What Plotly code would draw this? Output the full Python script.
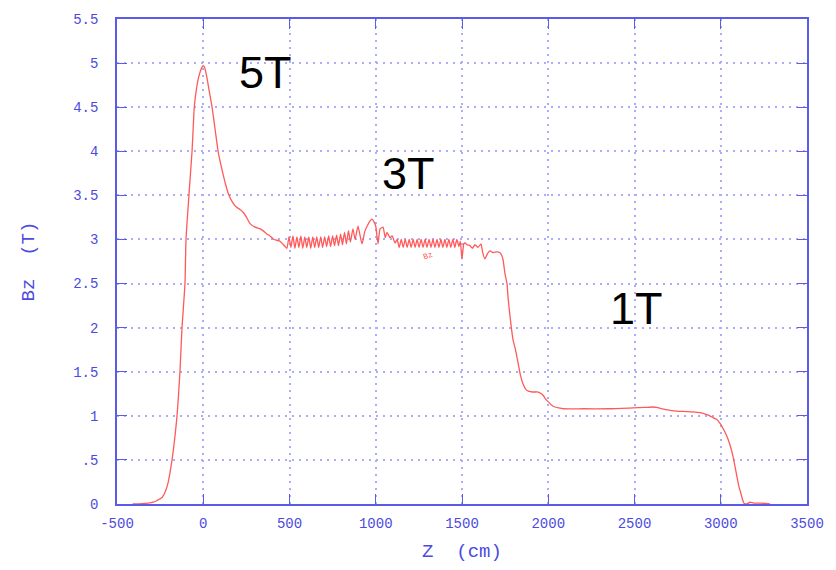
import plotly.graph_objects as go

# Field profile Bz (T) along Z (cm)
z_cm = [-410, -380, -350, -320, -290, -268, -240, -222, -204, -181, -165, -152, -143, -135,
        -123, -106, -100, -83, -65, -52, -40, -29, -15, -5, 0, 8, 20, 35, 51, 70, 86, 110,
        130, 149, 170, 190, 213, 235, 254, 271, 300, 330, 346, 370, 387, 410, 445, 474,
        485, 497, 508, 520, 531, 543, 554, 566, 577, 589, 600, 612, 623, 635, 646, 658,
        669, 681, 692, 704, 715, 727, 738, 750, 761, 773, 784, 796, 807, 819, 830, 842,
        853, 868, 880, 897, 920, 938, 955, 967, 978, 990, 1000, 1013, 1025, 1042, 1055,
        1065, 1083, 1095, 1112,
        1124, 1136, 1148, 1159, 1171, 1182, 1194, 1205, 1217, 1228, 1240, 1251, 1263, 1274,
        1286, 1297, 1309, 1320, 1332, 1343, 1355, 1366, 1378, 1389, 1401, 1412, 1424, 1435,
        1447, 1458, 1470, 1482, 1490, 1500, 1510, 1517, 1530, 1546, 1560, 1575, 1593, 1610,
        1620, 1633, 1648, 1662, 1680, 1703, 1720, 1730, 1738, 1750, 1761, 1767, 1780, 1796,
        1810, 1825, 1840, 1854, 1870, 1884, 1910, 1942, 1960, 1971, 1985, 2000, 2020, 2039,
        2060, 2087, 2200, 2350, 2493, 2560, 2608, 2630, 2660, 2717, 2780, 2840, 2880, 2910,
        2937, 2955, 2975, 2994, 3015, 3035, 3055, 3071, 3094, 3105, 3117, 3125, 3134, 3150,
        3170, 3190, 3230, 3286]
bz_t = [0.0, 0.0, 0.005, 0.01, 0.02, 0.04, 0.07, 0.13, 0.24, 0.5, 0.75, 1.0, 1.25, 1.5,
        2.0, 2.5, 3.0, 3.5, 4.0, 4.5, 4.7, 4.82, 4.92, 4.96, 4.97, 4.95, 4.85, 4.68, 4.5, 4.23, 4.0, 3.78,
        3.62, 3.5, 3.42, 3.37, 3.34, 3.3, 3.24, 3.18, 3.14, 3.12, 3.1, 3.06, 3.04, 3.0, 2.98, 2.92,
        2.90, 3.03, 2.91, 3.04, 2.90, 3.03, 2.91, 3.04, 2.90, 3.03, 2.91, 3.03, 2.90, 3.03, 2.91, 3.03,
        2.91, 3.03, 2.91, 3.03, 2.92, 3.04, 2.92, 3.04, 2.93, 3.05, 2.93, 3.06, 2.94, 3.08, 2.95, 3.10,
        2.97, 3.12, 3.0, 3.15, 2.95, 3.10, 3.17, 3.21, 3.23, 3.2, 3.15, 2.95, 3.12, 3.14, 3.02,
        3.08, 3.02, 3.04, 2.96,
        3.0, 2.91, 3.0, 2.91, 3.0, 2.91, 3.0, 2.91, 3.0, 2.91, 3.0, 2.91, 3.0, 2.91,
        3.0, 2.91, 3.0, 2.91, 3.0, 2.91, 3.0, 2.91, 3.0, 2.91, 3.0, 2.91, 3.0, 2.91,
        3.0, 2.91, 3.0, 2.92, 2.98, 2.78, 2.95, 2.96, 2.94, 2.93, 2.9, 2.94, 2.91, 2.95,
        2.85, 2.78, 2.84, 2.87, 2.85, 2.86, 2.85, 2.82, 2.77, 2.6, 2.5, 2.34, 2.1, 1.86,
        1.75, 1.6, 1.45, 1.36, 1.3, 1.28, 1.27, 1.27, 1.25, 1.23, 1.19, 1.16, 1.12, 1.10,
        1.09, 1.08, 1.08, 1.08, 1.09, 1.095, 1.1, 1.095, 1.08, 1.06, 1.05, 1.045, 1.035, 1.02,
        1.0, 0.98, 0.96, 0.92, 0.85, 0.77, 0.66, 0.54, 0.31, 0.2, 0.12, 0.06, 0.01, 0.0,
        0.02, 0.01, 0.01, 0.0]

x_ticks = [-500, 0, 500, 1000, 1500, 2000, 2500, 3000, 3500]
y_ticks = [0, 0.5, 1, 1.5, 2, 2.5, 3, 3.5, 4, 4.5, 5, 5.5]
y_tick_text = ["0", ".5", "1", "1.5", "2", "2.5", "3", "3.5", "4", "4.5", "5", "5.5"]

labels = ["5T", "3T", "1T"]
label_z = [358, 1187, 2509]
label_b = [4.89, 3.75, 2.22]

AXIS_BLUE = "#5b5bea"
TEXT_BLUE = "#4b4be0"
GRID_BLUE = "#acacf8"
MONO = "Liberation Mono, DejaVu Sans Mono, monospace"

fig = go.Figure()
fig.add_trace(go.Scatter(x=z_cm, y=bz_t, mode="lines",
                         line=dict(color="#ff5a5a", width=1.3, shape="spline", smoothing=0.5),
                         showlegend=False, hoverinfo="skip"))

for t, zx, by in zip(labels, label_z, label_b):
    fig.add_annotation(x=zx, y=by, text=t, showarrow=False,
                       font=dict(family="Liberation Sans, Arial, sans-serif", size=45, color="black"))

fig.add_annotation(x=1303, y=2.82, text="Bz", showarrow=False, textangle=-20,
                   font=dict(family=MONO, size=8, color="#ff5a5a"))

axis_common = dict(
    showline=True, linecolor=AXIS_BLUE, linewidth=1.5, mirror="ticks",
    ticks="inside", ticklen=10, tickcolor=AXIS_BLUE, tickwidth=1.2,
    showgrid=True, gridcolor=GRID_BLUE, griddash="1.5px,5.5px", gridwidth=1.5,
    zeroline=False,
    tickfont=dict(family=MONO, size=14, color=TEXT_BLUE),
)

fig.update_xaxes(range=[-500, 3500], tickvals=x_ticks, ticktext=[str(v) for v in x_ticks],
                 title=dict(text="Z  (cm)", font=dict(family=MONO, size=19, color=TEXT_BLUE), standoff=13),
                 ticklabelstandoff=5, **axis_common)
fig.update_yaxes(range=[0, 5.5], tickvals=y_ticks, ticktext=y_tick_text,
                 title=dict(text="Bz  (T)", font=dict(family=MONO, size=19, color=TEXT_BLUE), standoff=34),
                 ticklabelstandoff=14, **axis_common)

fig.update_layout(width=836, height=570,
                  margin=dict(l=117, r=29, t=16, b=65),
                  paper_bgcolor="white", plot_bgcolor="white")

fig.write_html("out.html")
